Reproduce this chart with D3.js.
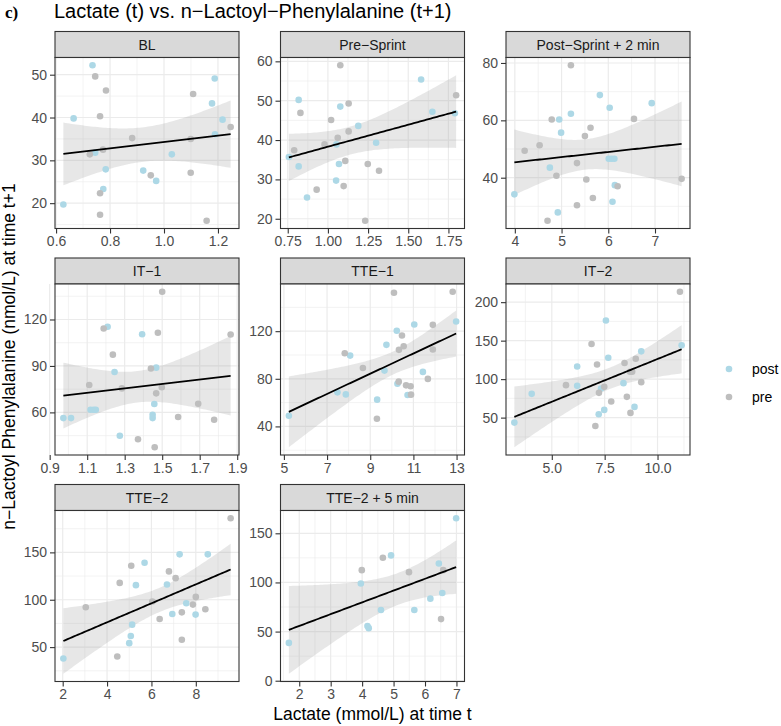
<!DOCTYPE html>
<html>
<head>
<meta charset="utf-8">
<script src="https://cdn.jsdelivr.net/npm/d3@7"></script>
<style>
  body { margin: 0; background: #ffffff; }
  svg { display: block; font-family: "Liberation Sans", Arial, Helvetica, sans-serif; }
</style>
</head>
<body>
<div id="chart"></div>
<script>
(function () {
  "use strict";

  /***** Data *****/
  var facetNames = ["BL", "Pre−Sprint", "Post−Sprint + 2 min", "IT−1", "TTE−1", "IT−2", "TTE−2", "TTE−2 + 5 min"];

  var xTickLabels = [
    ["0.6", "0.8", "1.0", "1.2"],
    ["0.75", "1.00", "1.25", "1.50", "1.75"],
    ["4", "5", "6", "7"],
    ["0.9", "1.1", "1.3", "1.5", "1.7", "1.9"],
    ["5", "7", "9", "11", "13"],
    ["5.0", "7.5", "10.0"],
    ["2", "4", "6", "8"],
    ["2", "3", "4", "5", "6", "7"]
  ];

  var yTickLabels = [
    ["20", "30", "40", "50"],
    ["20", "30", "40", "50", "60"],
    ["40", "60", "80"],
    ["60", "90", "120"],
    ["40", "80", "120"],
    ["50", "100", "150", "200"],
    ["50", "100", "150"],
    ["0", "50", "100", "150"]
  ];

  // lactate (t), n-lactoyl-phe (t+1) for the "post" group, one list per facet
  var postPoints = [
    [[0.627, 19.7], [0.665, 39.8], [0.735, 52.2], [0.745, 31.8], [0.775, 23.3], [0.784, 27.9], [0.923, 27.6],
     [0.971, 25.2], [1.029, 31.4], [1.178, 43.3], [1.188, 49.1], [1.189, 36.1], [1.217, 39.5]],
    [[0.757, 35.7], [0.818, 50.2], [0.818, 33.3], [0.870, 25.4], [1.051, 29.7], [1.053, 38.9], [1.069, 33.9],
     [1.077, 48.5], [1.189, 43.6], [1.300, 39.3], [1.580, 55.4], [1.650, 47.2], [1.790, 46.8]],
    [[3.99, 34.2], [4.75, 43.5], [4.92, 27.9], [4.95, 60.3], [4.99, 55.7], [5.20, 62.3], [5.82, 68.8],
     [6.01, 46.6], [6.07, 46.6], [6.13, 46.6], [6.03, 64.4], [6.09, 31.6], [6.14, 37.4], [6.93, 66.0]],
    [[0.973, 56.3], [1.014, 56.3], [1.118, 61.7], [1.135, 61.7], [1.146, 61.7], [1.209, 115.3], [1.246, 86.1],
     [1.274, 44.9], [1.393, 110.5], [1.458, 65.4], [1.449, 58.5], [1.449, 56.3], [1.468, 88.9]],
    [[5.23, 49.0], [7.48, 68.6], [7.87, 66.9], [8.07, 99.5], [9.32, 62.5], [9.66, 86.9], [9.75, 108.5],
     [10.23, 120.3], [10.26, 75.9], [10.73, 66.4], [11.04, 125.6], [11.44, 85.8], [12.98, 128.1]],
    [[3.23, 43.5], [4.05, 80.9], [6.20, 116.5], [6.20, 91.3], [7.22, 54.3], [7.33, 87.8], [7.48, 60.0],
     [7.56, 176.1], [7.67, 127.8], [8.39, 94.8], [8.91, 63.9], [9.23, 136.1], [11.14, 143.9]],
    [[2.03, 38.0], [5.00, 54.2], [5.07, 61.7], [5.13, 73.7], [5.30, 115.4], [5.69, 139.0], [6.70, 116.1],
     [6.94, 85.0], [7.27, 147.9], [7.57, 96.3], [7.99, 84.3], [8.54, 147.9]],
    [[1.67, 38.5], [3.96, 98.9], [4.17, 55.6], [4.21, 53.5], [4.60, 71.9], [4.92, 127.5], [5.66, 71.9],
     [6.17, 83.5], [6.44, 119.3], [6.55, 89.3], [6.99, 165.3]]
  ];

  // same for the "pre" group
  var prePoints = [
    [[0.725, 31.4], [0.745, 49.6], [0.763, 40.3], [0.763, 22.3], [0.763, 17.3], [0.774, 32.5], [0.785, 46.3],
     [0.882, 35.2], [0.951, 26.5], [1.099, 35.0], [1.099, 27.1], [1.108, 45.5], [1.158, 15.9], [1.247, 37.8]],
    [[0.790, 37.4], [0.829, 46.9], [0.930, 27.4], [0.979, 38.9], [1.020, 45.1], [1.061, 40.6], [1.077, 59.0],
     [1.098, 28.3], [1.108, 34.7], [1.129, 42.2], [1.129, 49.3], [1.248, 33.9], [1.232, 19.5], [1.318, 32.2],
     [1.798, 51.4]],
    [[4.21, 49.4], [4.53, 51.3], [4.70, 25.0], [4.79, 60.3], [4.89, 40.7], [5.20, 79.2], [5.33, 45.1],
     [5.33, 30.4], [5.50, 54.5], [5.53, 39.4], [5.62, 57.4], [5.67, 32.9], [6.20, 37.0], [6.55, 60.5],
     [7.57, 39.6]],
    [[1.111, 77.7], [1.188, 114.2], [1.237, 97.3], [1.285, 75.5], [1.371, 42.7], [1.440, 88.3], [1.460, 37.5],
     [1.468, 72.3], [1.477, 111.4], [1.498, 76.2], [1.500, 137.9], [1.585, 57.0], [1.692, 65.6], [1.777, 55.2],
     [1.865, 110.3]],
    [[7.82, 101.5], [8.66, 89.1], [9.31, 46.5], [10.10, 152.3], [10.32, 77.6], [10.33, 104.3], [10.47, 116.4],
     [10.55, 107.4], [10.66, 74.5], [10.87, 73.7], [10.89, 66.7], [11.67, 79.9], [11.90, 125.3], [11.90, 104.6],
     [12.82, 153.1]],
    [[5.67, 92.2], [6.88, 145.7], [7.14, 119.1], [7.06, 39.1], [7.23, 82.2], [7.48, 90.0], [7.81, 70.9],
     [8.44, 120.9], [8.55, 77.0], [8.70, 109.6], [8.80, 109.6], [8.72, 56.1], [8.97, 126.5], [9.23, 96.1],
     [11.06, 213.5]],
    [[3.04, 92.0], [4.46, 40.1], [4.57, 117.8], [5.09, 135.9], [6.04, 98.1], [6.37, 79.7], [6.79, 129.9],
     [7.09, 122.8], [7.37, 86.7], [7.37, 57.8], [7.87, 94.9], [8.00, 103.0], [8.43, 89.9], [9.57, 186.0]],
    [[3.99, 112.5], [4.66, 125.1], [5.49, 110.5], [6.51, 62.7], [6.58, 112.5]]
  ];

  var groups = ["post", "pre"];
  var groupColors = ["#add8e6", "#bebebe"];

  /***** Configuration *****/
  var width = 781, height = 726;
  var panelW = 184, panelH = 171, stripH = 26;
  var colStep = 225.5, rowStep = 226.5;
  var left0 = 55, top0 = 31.5;
  var pointR = 3.3;

  var svg = d3.select("#chart")
    .append("svg")
    .attr("width", width)
    .attr("height", height);

  /***** Linear fit with 95% band (like geom_smooth(method = "lm")) *****/
  function tQuantile975(df) {
    var z = 1.959964, z3 = z * z * z, z5 = z3 * z * z, z7 = z5 * z * z;
    return z + (z3 + z) / (4 * df) + (5 * z5 + 16 * z3 + 3 * z) / (96 * df * df) +
      (3 * z7 + 19 * z5 + 17 * z3 - 15 * z) / (384 * df * df * df);
  }

  function fitLm(pts) {
    var n = pts.length;
    var mx = d3.mean(pts, function (d) { return d[0]; });
    var my = d3.mean(pts, function (d) { return d[1]; });
    var sxx = d3.sum(pts, function (d) { return (d[0] - mx) * (d[0] - mx); });
    var sxy = d3.sum(pts, function (d) { return (d[0] - mx) * (d[1] - my); });
    var b = sxy / sxx, a = my - b * mx;
    var sse = d3.sum(pts, function (d) { var r = d[1] - a - b * d[0]; return r * r; });
    var s = Math.sqrt(sse / (n - 2));
    var t = tQuantile975(n - 2);
    var ext = d3.extent(pts, function (d) { return d[0]; });
    return d3.range(80).map(function (i) {
      var x = ext[0] + (ext[1] - ext[0]) * i / 79;
      var fit = a + b * x;
      var se = s * Math.sqrt(1 / n + (x - mx) * (x - mx) / sxx);
      return {x: x, fit: fit, lo: fit - t * se, hi: fit + t * se};
    });
  }

  function expand(ext) {
    var pad = (ext[1] - ext[0]) * 0.05;
    return [ext[0] - pad, ext[1] + pad];
  }

  function minorBreaks(major, domain) {
    var step = major[1] - major[0], out = [];
    for (var v = major[0] - step / 2; v <= domain[1]; v += step) {
      if (v >= domain[0]) out.push(v);
    }
    return out;
  }

  /***** Facets *****/
  facetNames.forEach(function (name, i) {
    var col = i % 3, row = Math.floor(i / 3);
    var gx = left0 + col * colStep;
    var gy = top0 + row * rowStep;

    var all = postPoints[i].concat(prePoints[i]);
    var smooth = fitLm(all);

    var xDom = expand(d3.extent(all, function (d) { return d[0]; }));
    var yDom = expand([
      Math.min(d3.min(all, function (d) { return d[1]; }), d3.min(smooth, function (d) { return d.lo; })),
      Math.max(d3.max(all, function (d) { return d[1]; }), d3.max(smooth, function (d) { return d.hi; }))
    ]);

    var x = d3.scaleLinear().domain(xDom).range([0, panelW]);
    var y = d3.scaleLinear().domain(yDom).range([panelH, 0]);

    var xMajor = xTickLabels[i].map(Number);
    var yMajor = yTickLabels[i].map(Number);

    // strip
    var strip = svg.append("g").attr("transform", "translate(" + gx + "," + gy + ")");
    strip.append("rect")
      .attr("width", panelW).attr("height", stripH)
      .attr("fill", "#d9d9d9").attr("stroke", "#333333").attr("stroke-width", 1.1);
    strip.append("text")
      .attr("x", panelW / 2).attr("y", stripH / 2)
      .attr("dy", "0.36em")
      .attr("text-anchor", "middle")
      .attr("font-size", 14)
      .attr("fill", "#1a1a1a")
      .text(name);

    var g = svg.append("g").attr("transform", "translate(" + gx + "," + (gy + stripH) + ")");

    g.append("rect").attr("width", panelW).attr("height", panelH).attr("fill", "#ffffff");

    // grid
    g.selectAll(".xminor").data(minorBreaks(xMajor, xDom)).enter().append("line")
      .attr("x1", x).attr("x2", x).attr("y1", 0).attr("y2", panelH)
      .attr("stroke", "#ebebeb").attr("stroke-width", 0.6);
    g.selectAll(".yminor").data(minorBreaks(yMajor, yDom)).enter().append("line")
      .attr("y1", y).attr("y2", y).attr("x1", 0).attr("x2", panelW)
      .attr("stroke", "#ebebeb").attr("stroke-width", 0.6);
    g.selectAll(".xmajor").data(xMajor).enter().append("line")
      .attr("x1", x).attr("x2", x).attr("y1", 0).attr("y2", panelH)
      .attr("stroke", "#ebebeb").attr("stroke-width", 1.2);
    g.selectAll(".ymajor").data(yMajor).enter().append("line")
      .attr("y1", y).attr("y2", y).attr("x1", 0).attr("x2", panelW)
      .attr("stroke", "#ebebeb").attr("stroke-width", 1.2);

    // confidence band
    g.append("path")
      .datum(smooth)
      .attr("fill", "#999999")
      .attr("fill-opacity", 0.24)
      .attr("d", d3.area()
        .x(function (d) { return x(d.x); })
        .y0(function (d) { return y(d.lo); })
        .y1(function (d) { return y(d.hi); }));

    // points
    [postPoints[i], prePoints[i]].forEach(function (pts, k) {
      g.selectAll(".pt" + k).data(pts).enter().append("circle")
        .attr("cx", function (d) { return x(d[0]); })
        .attr("cy", function (d) { return y(d[1]); })
        .attr("r", pointR)
        .attr("fill", groupColors[k]);
    });

    // fitted line
    g.append("path")
      .datum(smooth)
      .attr("fill", "none")
      .attr("stroke", "#000000")
      .attr("stroke-width", 1.8)
      .attr("d", d3.line()
        .x(function (d) { return x(d.x); })
        .y(function (d) { return y(d.fit); }));

    g.append("rect")
      .attr("width", panelW).attr("height", panelH)
      .attr("fill", "none").attr("stroke", "#333333").attr("stroke-width", 1.1);

    // axes
    var xAxis = g.append("g")
      .attr("transform", "translate(0," + panelH + ")")
      .call(d3.axisBottom(x).tickValues(xMajor)
        .tickFormat(function (d, j) { return xTickLabels[i][j]; })
        .tickSize(5).tickPadding(3).tickSizeOuter(0));
    var yAxis = g.append("g")
      .call(d3.axisLeft(y).tickValues(yMajor)
        .tickFormat(function (d, j) { return yTickLabels[i][j]; })
        .tickSize(5).tickPadding(3).tickSizeOuter(0));

    [xAxis, yAxis].forEach(function (ax) {
      ax.select(".domain").remove();
      ax.selectAll(".tick line").attr("stroke", "#333333").attr("stroke-width", 1.1);
      ax.selectAll(".tick text")
        .attr("fill", "#4d4d4d")
        .attr("font-size", 14)
        .attr("font-family", "Liberation Sans, Arial, sans-serif");
    });
  });

  /***** Titles *****/
  svg.append("text")
    .attr("x", 5).attr("y", 18)
    .attr("font-family", "Liberation Serif, Times New Roman, serif")
    .attr("font-weight", "bold")
    .attr("font-size", 17)
    .attr("fill", "#000000")
    .text("c)");

  svg.append("text")
    .attr("x", 54).attr("y", 17.5)
    .attr("font-size", 20)
    .attr("fill", "#000000")
    .text("Lactate (t) vs. n−Lactoyl−Phenylalanine (t+1)");

  svg.append("text")
    .attr("x", left0 + (2 * colStep + panelW) / 2)
    .attr("y", 720)
    .attr("text-anchor", "middle")
    .attr("font-size", 17.5)
    .attr("fill", "#000000")
    .text("Lactate (mmol/L) at time t");

  var plotMid = top0 + (2 * rowStep + stripH + panelH) / 2;
  svg.append("text")
    .attr("transform", "translate(15," + plotMid + ") rotate(-90)")
    .attr("text-anchor", "middle")
    .attr("font-size", 17.5)
    .attr("fill", "#000000")
    .text("n−Lactoyl Phenylalanine (nmol/L) at time t+1");

  /***** Legend *****/
  var legend = svg.append("g").attr("transform", "translate(729,369)");
  groups.forEach(function (name, k) {
    legend.append("circle")
      .attr("cx", 0).attr("cy", k * 28)
      .attr("r", pointR)
      .attr("fill", groupColors[k]);
    legend.append("text")
      .attr("x", 23).attr("y", k * 28)
      .attr("dy", "0.36em")
      .attr("font-size", 14)
      .attr("fill", "#000000")
      .text(name);
  });
})();
</script>
</body>
</html>
